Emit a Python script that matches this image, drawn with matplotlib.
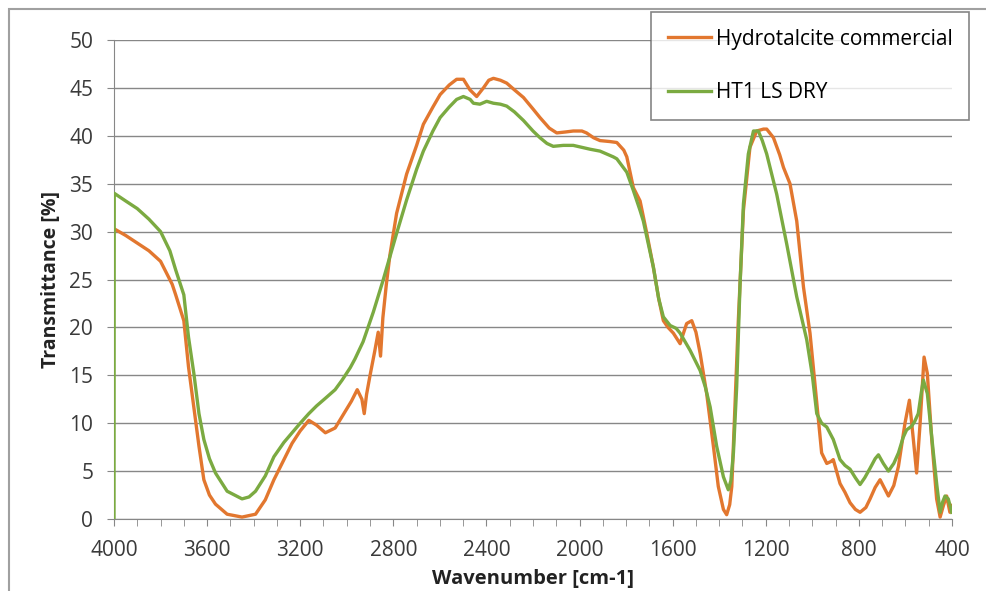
import numpy as np
import matplotlib
matplotlib.use("Agg")
import matplotlib.pyplot as plt
from matplotlib.patches import Rectangle
from matplotlib.ticker import MultipleLocator

plt.rcParams['font.family'] = ['Open Sans', 'DejaVu Sans']

# Hydrotalcite commercial (orange)
hydro_wn = [4000, 3950, 3900, 3850, 3800, 3750, 3735, 3700, 3680, 3657, 3635, 3614, 3590, 3564, 3514,
            3450, 3392, 3350, 3313, 3270, 3235, 3200, 3163, 3130, 3092, 3050, 3020, 2980, 2955, 2935,
            2925, 2915, 2900, 2880, 2865, 2855, 2845, 2830, 2815, 2786, 2743, 2700, 2671, 2630, 2599,
            2560, 2528, 2499, 2471, 2442, 2413, 2390, 2370, 2340, 2313, 2280, 2241, 2200, 2170, 2130,
            2098, 2060, 2027, 1990, 1970, 1940, 1912, 1870, 1840, 1810, 1797, 1769, 1740, 1711, 1683,
            1660, 1640, 1620, 1597, 1568, 1555, 1540, 1518, 1500, 1482, 1454, 1425, 1404, 1382, 1368,
            1355, 1346, 1332, 1318, 1296, 1268, 1239, 1210, 1196, 1167, 1140, 1124, 1096, 1067, 1038,
            1010, 981, 960, 938, 920, 910, 881, 860, 838, 815, 795, 770, 752, 730, 709,
            690, 673, 650, 630, 602, 583, 566, 552, 537, 520, 506, 487, 466, 451, 437,
            423, 409, 400]
hydro_t = [30.3, 29.6, 28.8, 28.0, 26.9, 24.5, 23.4, 20.7, 15.9, 11.7, 7.6, 4.1, 2.5, 1.55, 0.5,
           0.2, 0.5, 2.0, 4.1, 6.2, 7.9, 9.2, 10.3, 9.8, 9.0, 9.5, 10.7, 12.3, 13.5, 12.5,
           11.0, 13.0, 15.0, 17.5, 19.5, 17.0, 21.0, 24.5, 27.5, 31.9, 36.0, 39.0, 41.2, 43.0, 44.3,
           45.3, 45.9, 45.9, 44.8, 44.1, 45.0, 45.8, 46.0, 45.8, 45.5, 44.8, 44.0, 42.8, 41.9, 40.8,
           40.3, 40.4, 40.5, 40.5, 40.3, 39.8, 39.5, 39.4, 39.3, 38.5, 37.8, 34.6, 33.2, 29.8, 26.3,
           23.0, 20.7, 20.0, 19.4, 18.3, 19.3, 20.4, 20.7, 19.5, 17.3, 13.1, 7.6, 3.4, 1.0, 0.45,
           1.5, 3.4, 12.0, 20.7, 32.2, 38.8, 40.5, 40.7, 40.7, 39.8, 38.0, 36.7, 35.0, 31.1, 24.2,
           19.4, 12.1, 6.9, 5.8, 6.0, 6.2, 3.7, 2.8, 1.7, 1.0, 0.7, 1.2, 2.1, 3.3, 4.1,
           3.2, 2.4, 3.5, 5.5, 10.0, 12.4, 8.3, 4.8, 10.0, 16.9, 15.2, 8.3, 2.1, 0.2, 1.4,
           2.4, 0.7, 1.4]

# HT1 LS DRY (green)
ht1_wn = [4000, 3999, 3950, 3900, 3850, 3800, 3760, 3735, 3700, 3680, 3657, 3635, 3614, 3590, 3564,
          3514, 3450, 3420, 3392, 3350, 3313, 3270, 3235, 3200, 3163, 3130, 3092, 3050, 3020, 2985,
          2965, 2930, 2886, 2843, 2786, 2743, 2700, 2671, 2630, 2599, 2560, 2528, 2499, 2470, 2456,
          2428, 2399, 2370, 2340, 2313, 2280, 2241, 2200, 2170, 2140, 2113, 2070, 2027, 1990, 1955,
          1912, 1883, 1855, 1840, 1812, 1797, 1769, 1740, 1726, 1683, 1660, 1640, 1611, 1585, 1568,
          1525, 1482, 1460, 1439, 1411, 1382, 1361, 1350, 1339, 1325, 1311, 1296, 1275, 1253, 1232,
          1215, 1196, 1153, 1110, 1067, 1024, 1000, 981, 960, 938, 910, 881, 860, 838, 815,
          795, 775, 752, 730, 716, 695, 673, 650, 630, 610, 595, 573, 560, 545, 530,
          523, 506, 493, 480, 465, 451, 440, 430, 416, 401]
ht1_t = [0.0, 34.0, 33.2, 32.4, 31.3, 30.0, 28.0, 26.0, 23.4, 19.0, 15.2, 11.0, 8.3, 6.3, 4.8,
         2.9, 2.1, 2.3, 2.9, 4.5, 6.5, 8.0, 9.0, 10.0, 11.0, 11.8, 12.6, 13.5, 14.5, 15.8,
         16.7, 18.5, 21.6, 25.0, 29.8, 33.3, 36.5, 38.4, 40.5, 41.9, 43.0, 43.8, 44.1, 43.8, 43.4,
         43.3, 43.6, 43.4, 43.3, 43.1, 42.5, 41.6, 40.5, 39.8, 39.2, 38.9, 39.0, 39.0, 38.8, 38.6,
         38.4, 38.1, 37.8, 37.6, 36.7, 36.2, 34.3, 32.2, 31.1, 26.3, 23.0, 21.1, 20.2, 19.9, 19.4,
         17.6, 15.5, 13.8, 11.7, 7.6, 4.4, 3.05, 4.0, 6.9, 13.8, 24.2, 32.9, 38.1, 40.5, 40.5,
         39.5, 38.1, 33.9, 28.7, 23.2, 18.7, 15.0, 11.0, 10.0, 9.6, 8.3, 6.2, 5.6, 5.2, 4.3,
         3.6, 4.3, 5.3, 6.3, 6.7, 5.8, 5.0, 5.8, 6.9, 8.5, 9.3, 9.7, 10.2, 11.0, 13.5,
         14.5, 13.1, 10.0, 6.9, 3.5, 0.7, 1.8, 2.4, 2.1, 0.7]

fig = plt.figure(figsize=(9.87, 5.91), dpi=100)
ax = fig.add_axes([114/987, 1 - 519/591, (952 - 114)/987, (519 - 40)/591])

grey = '#878787'
ax.plot(hydro_wn, hydro_t, color='#E2772F', lw=2.4, label='Hydrotalcite commercial', zorder=3)
ax.plot(ht1_wn, ht1_t, color='#7BAA41', lw=2.4, label='HT1 LS DRY', zorder=4)

ax.set_xlim(4000, 400)
ax.set_ylim(0, 50)
ax.xaxis.set_major_locator(MultipleLocator(400))
ax.xaxis.set_minor_locator(MultipleLocator(100))
ax.yaxis.set_major_locator(MultipleLocator(5))
ax.grid(axis='y', color=grey, lw=1)
ax.set_axisbelow(True)
for s in ['top', 'right']:
    ax.spines[s].set_visible(False)
for s in ['left', 'bottom']:
    ax.spines[s].set_color(grey)
ax.tick_params(axis='both', which='both', colors=grey, labelcolor='#3a3a3a', labelsize=15,
               length=5, direction='out')
ax.tick_params(axis='x', pad=10)
ax.tick_params(axis='y', pad=10)

ax.set_xlabel('Wavenumber [cm-1]', fontsize=14.5, fontweight='bold', color='#222222', labelpad=6)
ax.set_ylabel('Transmittance [%]', fontsize=14, fontweight='bold', color='#222222', labelpad=6)

# chart frame
fig.patches.append(Rectangle((9/987, -0.1), 1.2, 1 - 9/591 + 0.1, transform=fig.transFigure,
                             fill=False, edgecolor='#a0a0a0', lw=1.5, clip_on=False))

leg = fig.legend(loc='upper left', bbox_to_anchor=(651/987, 1 - 12/591), fontsize=15,
                 frameon=True, fancybox=False, edgecolor='#666666', handlelength=2.1,
                 handletextpad=0.2, labelspacing=1.55, borderpad=0.8, borderaxespad=0)
leg.get_frame().set_linewidth(1.2)

fig.savefig('out.png', dpi=100)
